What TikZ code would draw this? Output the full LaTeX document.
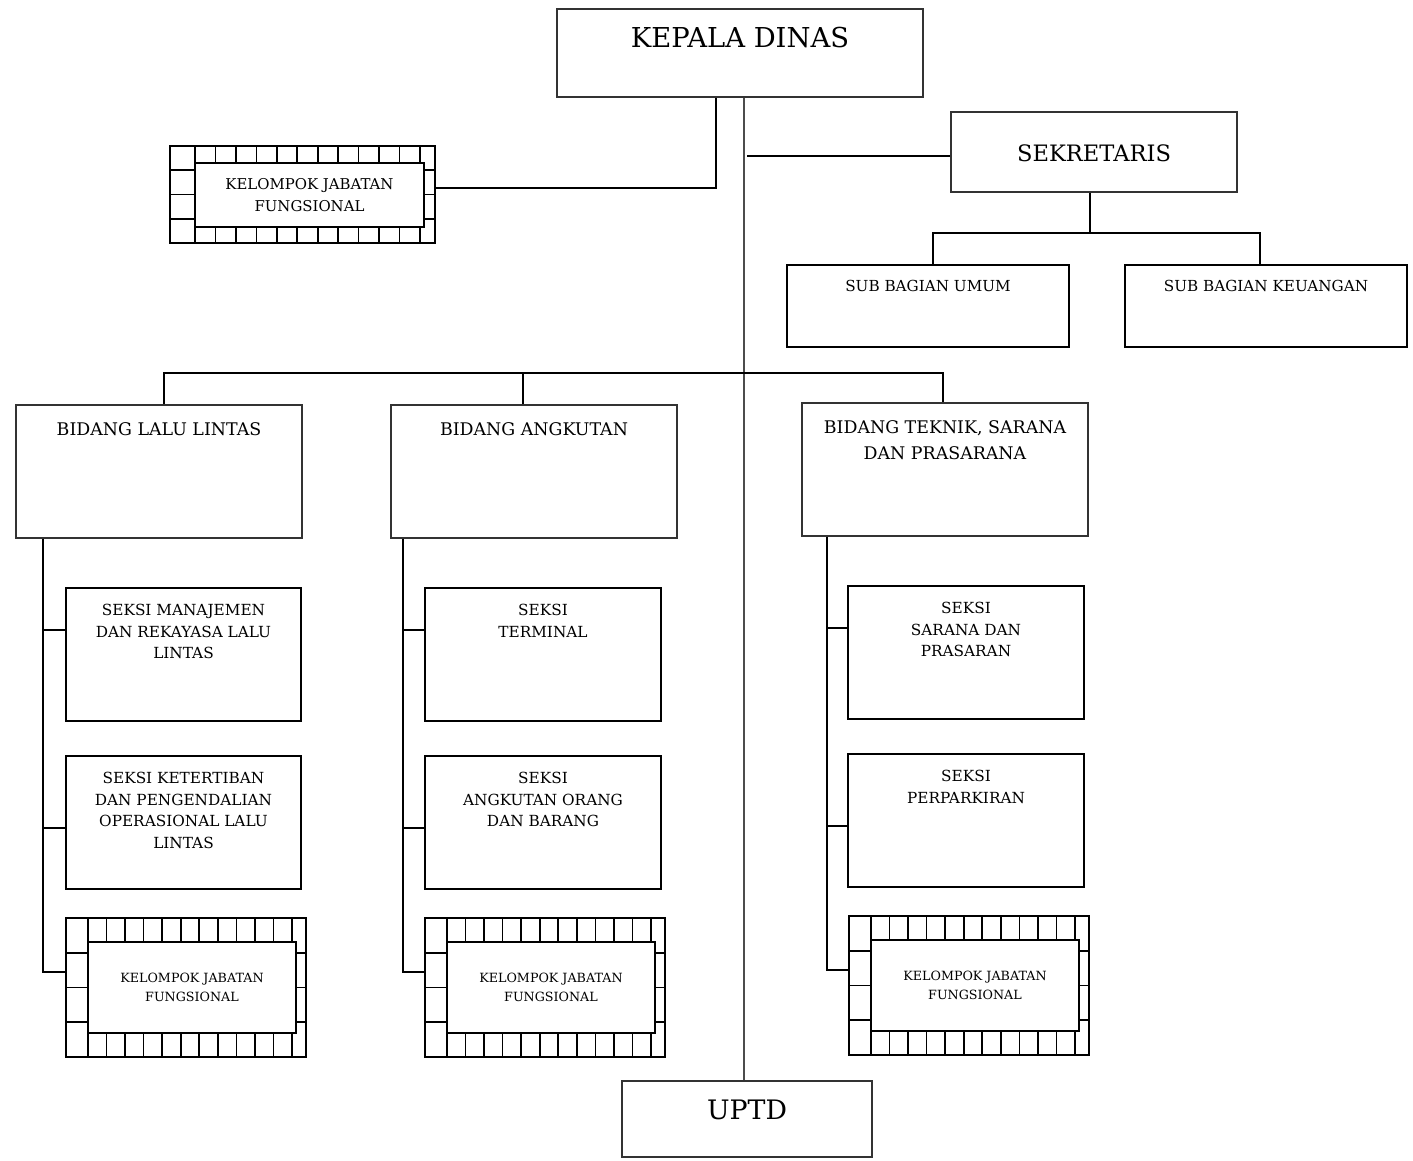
\documentclass[tikz,border=0pt]{standalone}
\usepackage{fontspec}
\setmainfont{DejaVu Serif}
\usetikzlibrary{calc}

\newcommand{\fs}[2]{\fontsize{#1}{#2}\selectfont}

\tikzset{
  frame/.style={draw, line width=1.6pt, inner sep=0pt, rectangle},
  thinframe/.style={draw, line width=1.2pt, inner sep=0pt, rectangle, draw=black!80},
  caption/.style={inner sep=0pt, align=center, anchor=north},
  huge caption/.style={caption, font=\fs{27.4}{32}},
  big caption/.style={caption, font=\fs{22.6}{27}},
  div caption/.style={caption, font=\fs{17.4}{26}},
  sec caption/.style={caption, font=\fs{15.3}{21.7}},
  link/.style={line width=1.3pt},
  trunk/.style={line width=1.3pt, draw=black!70},
  hatch/.style={line width=1.6pt},
}

% Framed "functional group" box: outer frame, inner frame and a ring of cells between them.
% #1 name, #2 x1, #3 y1, #4 x2, #5 y2 (outer corners), #6 text
\newcommand{\kjfbox}[6]{%
  \pgfmathsetmacro{\hxa}{#2+\kjfL}
  \pgfmathsetmacro{\hxb}{#4-\kjfR}
  \pgfmathsetmacro{\hya}{#3+\kjfT}
  \pgfmathsetmacro{\hyb}{#5-\kjfB}
  \node[frame, minimum width={#4-#2}, minimum height={#5-#3}] (#1-o) at ({(#2+#4)/2},{(#3+#5)/2}) {};
  \node[frame, fill=white, minimum width={\hxb-\hxa}, minimum height={\hyb-\hya}] (#1) at ({(\hxa+\hxb)/2},{(\hya+\hyb)/2}) {};
  \draw[hatch] (\hxa,#3) -- (\hxa,\hya) (\hxa,\hyb) -- (\hxa,#5);
  \foreach \k in {1,...,\kjfN} {
    \pgfmathsetmacro{\htx}{\hxa+\k*(\hxb-4-\hxa)/\kjfN}
    \draw[hatch] (\htx,#3) -- (\htx,\hya) (\htx,\hyb) -- (\htx,#5);
  }
  \foreach \f in {0.25,0.5,0.75} {
    \pgfmathsetmacro{\hty}{#3+\f*(#5-#3)}
    \draw[hatch] (#2,\hty) -- (\hxa,\hty) (\hxb,\hty) -- (#4,\hty);
  }
  \node[caption, anchor=center, font=\kjffont] (#1-t) at (#1) {#6};
}

\begin{document}
\begin{tikzpicture}[x=1pt, y=-1pt]
\useasboundingbox (0,0) rectangle (1413,1160);

% ---- head, secretary, units ----
\node[thinframe, minimum width=366, minimum height=88] (kd) at (740,53) {};
\node[huge caption] (kd-t) at (740,27) {KEPALA DINAS};

\node[thinframe, minimum width=286, minimum height=80] (sek) at (1094,152) {};
\node[big caption] (sek-t) at (1094,145) {SEKRETARIS};

\node[frame, minimum width=282, minimum height=82] (sbu) at (928,306) {};
\node[caption, font=\fs{15.2}{21}] (sbu-t) at (928,280) {SUB BAGIAN UMUM};
\node[frame, minimum width=282, minimum height=82] (sbk) at (1266,306) {};
\node[caption, font=\fs{15.2}{21}] (sbk-t) at (1266,280) {SUB BAGIAN KEUANGAN};

\node[thinframe, minimum width=250, minimum height=76] (uptd) at (747,1119) {};
\node[caption, font=\fs{26.8}{32}] (uptd-t) at (747,1100) {UPTD};

% ---- divisions ----
\node[thinframe, minimum width=286, minimum height=133] (bl) at (159,471.5) {};
\node[div caption] (bl-t) at (159,422) {BIDANG LALU LINTAS};
\node[thinframe, minimum width=286, minimum height=133] (ba) at (534,471.5) {};
\node[div caption] (ba-t) at (534,422) {BIDANG ANGKUTAN};
\node[thinframe, minimum width=286, minimum height=133] (bt) at (945,469.5) {};
\node[div caption] (bt-t) at (945,420) {BIDANG TEKNIK, SARANA\\DAN PRASARANA};

% ---- sections ----
\node[frame, minimum width=235, minimum height=133] (s11) at (183.5,654.5) {};
\node[sec caption] (s11-t) at (183.5,604) {SEKSI MANAJEMEN\\DAN REKAYASA LALU\\LINTAS};
\node[frame, minimum width=235, minimum height=133] (s12) at (183.5,822.5) {};
\node[sec caption] (s12-t) at (183.5,772) {SEKSI KETERTIBAN\\DAN PENGENDALIAN\\OPERASIONAL LALU\\LINTAS};

\node[frame, minimum width=236, minimum height=133] (s21) at (543,654.5) {};
\node[sec caption] (s21-t) at (543,604) {SEKSI\\TERMINAL};
\node[frame, minimum width=236, minimum height=133] (s22) at (543,822.5) {};
\node[sec caption] (s22-t) at (543,772) {SEKSI\\ANGKUTAN ORANG\\DAN BARANG};

\node[frame, minimum width=236, minimum height=133] (s31) at (966,652.5) {};
\node[sec caption] (s31-t) at (966,602) {SEKSI\\SARANA DAN\\PRASARAN};
\node[frame, minimum width=236, minimum height=133] (s32) at (966,820.5) {};
\node[sec caption] (s32-t) at (966,770) {SEKSI\\PERPARKIRAN};

% ---- functional groups ----
\def\kjfL{25}\def\kjfR{11}\def\kjfT{17}\def\kjfB{16}\def\kjfN{11}
\def\kjffont{\fs{14.9}{22}}
\kjfbox{k0}{170}{146}{435}{243}{KELOMPOK JABATAN\\FUNGSIONAL}
\def\kjfL{22}\def\kjfR{10}\def\kjfT{24}\def\kjfB{24}\def\kjfN{11}
\def\kjffont{\fs{12.7}{19}}
\kjfbox{k1}{66}{918}{306}{1057}{KELOMPOK JABATAN\\FUNGSIONAL}
\kjfbox{k2}{425}{918}{665}{1057}{KELOMPOK JABATAN\\FUNGSIONAL}
\kjfbox{k3}{849}{916}{1089}{1055}{KELOMPOK JABATAN\\FUNGSIONAL}

% ---- connectors ----
\draw[link] ([xshift=-24pt]kd.south) |- ([yshift=6.5pt]k0-o.east);
\draw[trunk] ([xshift=4pt]kd.south) -- ([xshift=-3pt]uptd.north);

\coordinate (j1) at (747,156);
\draw[link] (j1) -- (j1 -| sek.west);

\coordinate (j2) at (1090,233);
\draw[link] ([xshift=-4pt]sek.south) -- (j2);
\draw[link] ([xshift=5pt]sbu.north) |- ([xshift=-6pt]sbk.north |- j2) -- ([xshift=-6pt]sbk.north);

\coordinate (j3) at (744,373);
\draw[link] ([xshift=5pt]bl.north) |- (j3) -| ([xshift=-2pt]bt.north);
\draw[link] ([xshift=-11pt]ba.north) -- ([xshift=-11pt]ba.north |- j3);

\draw[link] ([xshift=-116pt]bl.south) |- ([yshift=15.5pt]k1-o.west);
\draw[link] ([yshift=24.5pt]s11.west) -- ++(-23,0);
\draw[link] ([yshift=-5.5pt]s12.west) -- ++(-23,0);

\draw[link] ([xshift=-131pt]ba.south) |- ([yshift=15.5pt]k2-o.west);
\draw[link] ([yshift=24.5pt]s21.west) -- ++(-22,0);
\draw[link] ([yshift=-5.5pt]s22.west) -- ++(-22,0);

\draw[link] ([xshift=-118pt]bt.south) |- ([yshift=15.5pt]k3-o.west);
\draw[link] ([yshift=24.5pt]s31.west) -- ++(-21,0);
\draw[link] ([yshift=-5.5pt]s32.west) -- ++(-21,0);
\end{tikzpicture}
\end{document}
